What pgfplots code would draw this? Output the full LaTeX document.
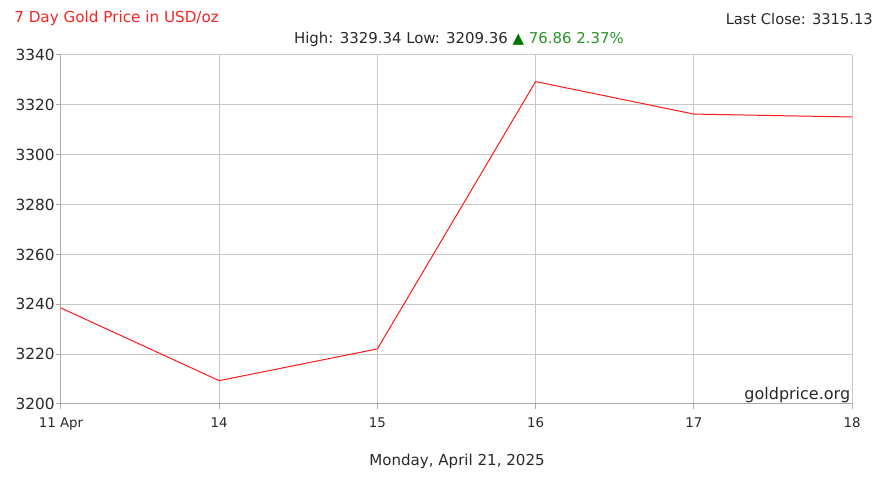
\documentclass[border=0pt]{standalone}
\usepackage{pgfplots}
\pgfplotsset{compat=1.18}
\usepackage{fontspec}
\setmainfont{DejaVu Sans}
\definecolor{gridgray}{RGB}{200,200,200}
\definecolor{axgray}{RGB}{170,170,170}
\definecolor{txtgray}{RGB}{40,40,40}
\definecolor{titlered}{RGB}{245,35,35}
\definecolor{upgreen}{RGB}{40,150,40}
\definecolor{trigreen}{RGB}{0,120,0}
\begin{document}
\begin{tikzpicture}[x=0.75pt,y=0.75pt]
\useasboundingbox (-61,-84) rectangle (831,404);
\begin{axis}[
  at={(0,0)}, anchor=south west,
  scale only axis,
  width=593.25pt, height=261.75pt,
  xmin=0, xmax=5, ymin=3200, ymax=3340,
  xtick={0,1,2,3,4,5},
  xticklabels={11 Apr,14,15,16,17,18},
  ytick={3200,3220,...,3340},
  /pgf/number format/1000 sep={},
  /pgf/number format/assume math mode=true,
  grid=major,
  major grid style={gridgray, line width=0.75pt},
  axis line style={axgray, line width=0.75pt},
  axis x line*=bottom, axis y line*=left,
  tick align=outside,
  major tick length=3.5pt,
  tick style={axgray, line width=0.75pt},
  every tick label/.append style={txtgray},
  yticklabel style={font=\fontsize{11.5}{13}\selectfont, inner xsep=1pt},
  xticklabel style={font=\fontsize{10}{12}\selectfont, yshift=-3pt},
  clip=false,
]
\addplot[color=red!90!white, line width=0.75pt, mark=none] coordinates {
  (0,3238.5) (1,3209.36) (2,3222.1) (3,3329.34) (4,3316.3) (5,3315.13)
};
\node[anchor=south east, inner sep=0pt, font=\fontsize{12}{14}\selectfont, text=txtgray] at (axis cs:5,3200) [yshift=0.6pt, xshift=-1.2pt] {goldprice.org};
\end{axis}
\node[anchor=west, inner sep=0pt, font=\fontsize{11.4}{13}\selectfont, text=titlered] at (-47,386) {7 Day Gold Price in USD/oz};
\node[anchor=east, inner sep=0pt, font=\fontsize{11}{13}\selectfont, text=txtgray] at (812,385) {Last Close: 3315.13};
\node[inner sep=0pt, font=\fontsize{11.2}{13}\selectfont, text=txtgray] at (398,365) {High: 3329.34 Low: 3209.36 \textcolor{trigreen}{▲} \textcolor{upgreen}{76.86 2.37\%}};
\node[inner sep=0pt, font=\fontsize{11.3}{13}\selectfont, text=txtgray] at (396,-57) {Monday, April 21, 2025};
\end{tikzpicture}
\end{document}
